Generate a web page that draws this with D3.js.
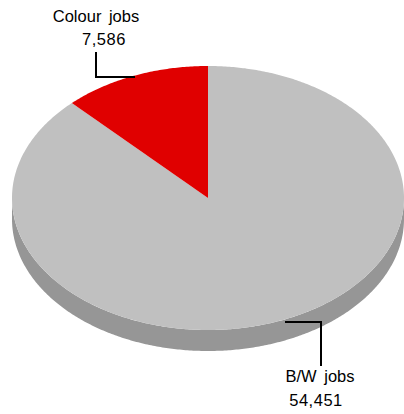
<!DOCTYPE html>
<html>
<head>
<meta charset="utf-8">
<script src="https://cdn.jsdelivr.net/npm/d3@7"></script>
<style>
  html, body { margin: 0; padding: 0; background: #fff; }
  svg { display: block; }
  text { font-family: "Liberation Sans", Arial, sans-serif; font-size: 16.5px; fill: #000; }
</style>
</head>
<body>
<svg id="chart" width="404" height="414"></svg>
<script>
// Job counts by print type
const categories = ["B/W jobs", "Colour jobs"];
const values = [54451, 7586];
const topColors = ["#c0c0c0", "#e00000"];
const sideColors = ["#969696", "#a00000"];

const W = 404, H = 414;
const cx = 208, cy = 198, rx = 196, ry = 132, depth = 21;

const svg = d3.select("#chart");
const fmt = d3.format(",");

const pie = d3.pie().sort(null).value(d => d.value);
const arcs = pie(categories.map((c, i) => ({ name: c, value: values[i], i })));

// Point on the ellipse for a d3 pie angle (clockwise from 12 o'clock)
const pt = (a, dy = 0) => [cx + rx * Math.sin(a), cy - ry * Math.cos(a) + dy];

function sample(a0, a1, dy) {
  const n = Math.max(2, Math.ceil(Math.abs(a1 - a0) / 0.01));
  return d3.range(n + 1).map(k => pt(a0 + (a1 - a0) * k / n, dy));
}

const line = d3.line();

// Side wall: only the front half (angles between PI/2 and 3PI/2) is visible
arcs.forEach(a => {
  const s = Math.max(a.startAngle, Math.PI / 2);
  const e = Math.min(a.endAngle, 3 * Math.PI / 2);
  if (e <= s) return;
  const pts = sample(s, e, 0).concat(sample(e, s, depth));
  svg.append("path")
    .attr("d", line(pts) + "Z")
    .attr("fill", sideColors[a.data.i]);
});

// Top faces
arcs.forEach(a => {
  const pts = [[cx, cy]].concat(sample(a.startAngle, a.endAngle, 0));
  svg.append("path")
    .attr("d", line(pts) + "Z")
    .attr("fill", topColors[a.data.i]);
});

// Leader lines and labels
const leaders = [
  { pts: [[285, 322], [321, 322], [321, 366]], tx: 320, ty1: 382, ty2: 406 },
  { pts: [[135, 77], [96, 77], [96, 52]], tx: 96, ty1: 22, ty2: 45 }
];

arcs.forEach(a => {
  const L = leaders[a.data.i];
  svg.append("path")
    .attr("d", d3.line()(L.pts))
    .attr("fill", "none")
    .attr("stroke", "#000")
    .attr("stroke-width", 2);
  svg.append("text")
    .attr("x", L.tx).attr("y", L.ty1)
    .attr("text-anchor", "middle")
    .style("word-spacing", "3px")
    .text(a.data.name);
  svg.append("text")
    .attr("x", L.tx + (a.data.i === 1 ? 8 : -4)).attr("y", L.ty2)
    .attr("text-anchor", "middle")
    .style("letter-spacing", "0.5px")
    .text(fmt(a.data.value));
});
</script>
</body>
</html>
